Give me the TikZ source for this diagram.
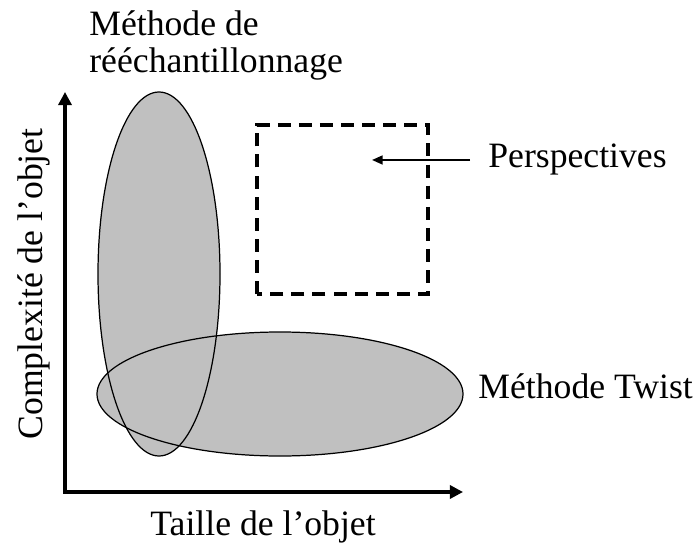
\documentclass[tikz,border=0pt]{standalone}
\usepackage{fontspec}
\setmainfont{Liberation Serif}
\usepackage{xcolor}
\definecolor{zonegray}{HTML}{C0C0C0}
\usetikzlibrary{arrows.meta, positioning}
\tikzstyle{axis}    = [line width=1.8pt, {Triangle[length=7.5pt, width=7.5pt]}-{Triangle[length=7.5pt, width=7.5pt]}]
\tikzstyle{zone}    = [fill=zonegray]
\tikzstyle{rim}     = [draw=black, line width=0.7pt]
\tikzstyle{future}  = [draw=black, line width=2.3pt, dash pattern=on 7.4pt off 4.6pt]
\tikzstyle{pointer} = [line width=1.1pt, -{Triangle[length=6pt, width=5pt]}]
\tikzstyle{lbl}     = [inner sep=0pt, font=\fontsize{20.3}{21}\selectfont]

\begin{document}
\begin{tikzpicture}
  \useasboundingbox (0,0) rectangle (13.98,11.08);
  \coordinate (orig) at (1.30,1.24);
  \coordinate (ytip) at (1.30,9.24);
  \coordinate (xtip) at (9.26,1.24);

  % zones
  \fill[zone] (3.18,5.60) ellipse [x radius=1.22, y radius=3.64];
  \fill[zone] (5.60,3.20) ellipse [x radius=3.66, y radius=1.24];
  \draw[rim]  (3.18,5.60) ellipse [x radius=1.22, y radius=3.64];
  \draw[rim]  (5.60,3.20) ellipse [x radius=3.66, y radius=1.24];
  \draw[future] (5.14,5.20) rectangle (8.56,8.58);

  % axes
  \draw[axis] (ytip) -- (orig) -- (xtip);

  % labels
  \node[lbl, align=left, anchor=north west] (resamp) at (1.78,10.88) {Méthode de\\rééchantillonnage};
  \node[lbl, anchor=base west] (persp) at (9.76,7.72) {Perspectives};
  \node[lbl, anchor=base west] (twist) at (9.56,3.12) {Méthode Twist};
  \node[lbl, anchor=base west] (xlab)  at (3.00,0.38) {Taille de l’objet};
  \node[lbl, rotate=90, anchor=base] (ylab) at (0.84,5.40) {Complexité de l’objet};

  \coordinate (target) at (7.44,7.88);
  \draw[pointer] ([xshift=-0.36cm]persp.west) -- (persp.west -| target);
\end{tikzpicture}
\end{document}
